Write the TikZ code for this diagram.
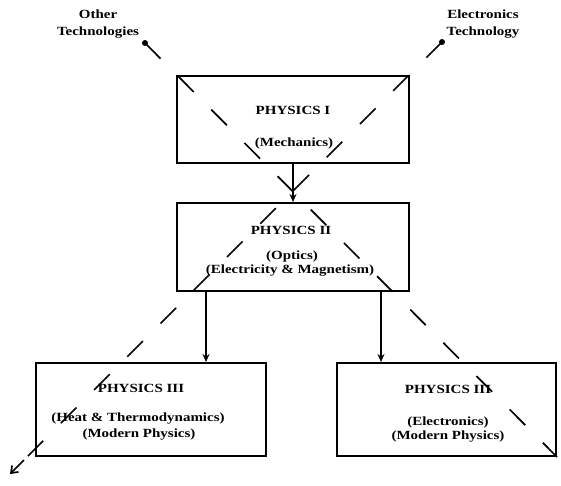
\documentclass[tikz,border=0pt]{standalone}
\usepackage{fontspec}
\setmainfont{Liberation Serif}[FakeStretch=1.2]
\usetikzlibrary{arrows.meta}
\begin{document}
\begin{tikzpicture}[x=1pt,y=-1pt,
  box/.style={draw, line width=2pt, inner sep=0pt},
  lbl/.style={inner sep=0pt, font=\fontsize{12.5}{17}\selectfont\bfseries, align=center},
  diag/.style={line width=1.7pt, dash pattern=on 22pt off 25pt},
  arr/.style={line width=1.5pt, -{Stealth[length=8pt,width=7pt]}},
  dotc/.style={circle, fill, inner sep=0pt, minimum size=6pt}
]
\useasboundingbox (0,0) rectangle (561,486);

% boxes
\node[box, minimum width=232pt, minimum height=87pt] (b1) at (293,119.5) {};
\node[box, minimum width=232pt, minimum height=88pt] (b2) at (293,247) {};
\node[box, minimum width=230pt, minimum height=93pt] (b3) at (151,409.5) {};
\node[box, minimum width=219pt, minimum height=93pt] (b4) at (446.5,409.5) {};

% outside labels and their dots
\node[lbl] (other) at (98,24) {Other\\Technologies};
\node[lbl] (elec) at (483,24) {Electronics\\Technology};
\node[dotc] (odot) at (145,43) {};
\node[dotc] (edot) at (442,42) {};
\coordinate (bmid) at (28,456);
\coordinate (bstart) at (24,460);
\coordinate (bend) at (10,474);

% diagonal dashed lines
\draw[diag] (odot.center) -- (b4.south east);
\draw[diag] (edot.center) -- (bmid);
\draw[line width=1.7pt, -{Straight Barb[length=6pt,width=9pt]}] (bstart) -- (bend);

% texts
\node[lbl] (t1a) at (293,110) {PHYSICS I};
\node[lbl] (t1b) at (294,143) {(Mechanics)};
\node[lbl] (t2a) at (291,230) {PHYSICS II};
\node[lbl] (t2b) at (292,256) {(Optics)};
\node[lbl] (t2c) at (290,271) {(Electricity \& Magnetism)};
\node[lbl] (t3a) at (141,388) {PHYSICS III};
\node[lbl] (t3b) at (138,419) {(Heat \& Thermodynamics)};
\node[lbl] (t3c) at (139,435) {(Modern Physics)};
\node[lbl] (t4a) at (448,389) {PHYSICS III};
\node[lbl] (t4b) at (448,422) {(Electronics)};
\node[lbl] (t4c) at (448,437) {(Modern Physics)};

% arrows
\coordinate (a2) at ([xshift=30pt]b2.south west);
\coordinate (a3) at ([xshift=-29pt]b2.south east);
\draw[arr] (b1.south) -- (b2.north);
\draw[arr] (a2) -- (a2 |- b3.north);
\draw[arr] (a3) -- (a3 |- b4.north);
\end{tikzpicture}
\end{document}
